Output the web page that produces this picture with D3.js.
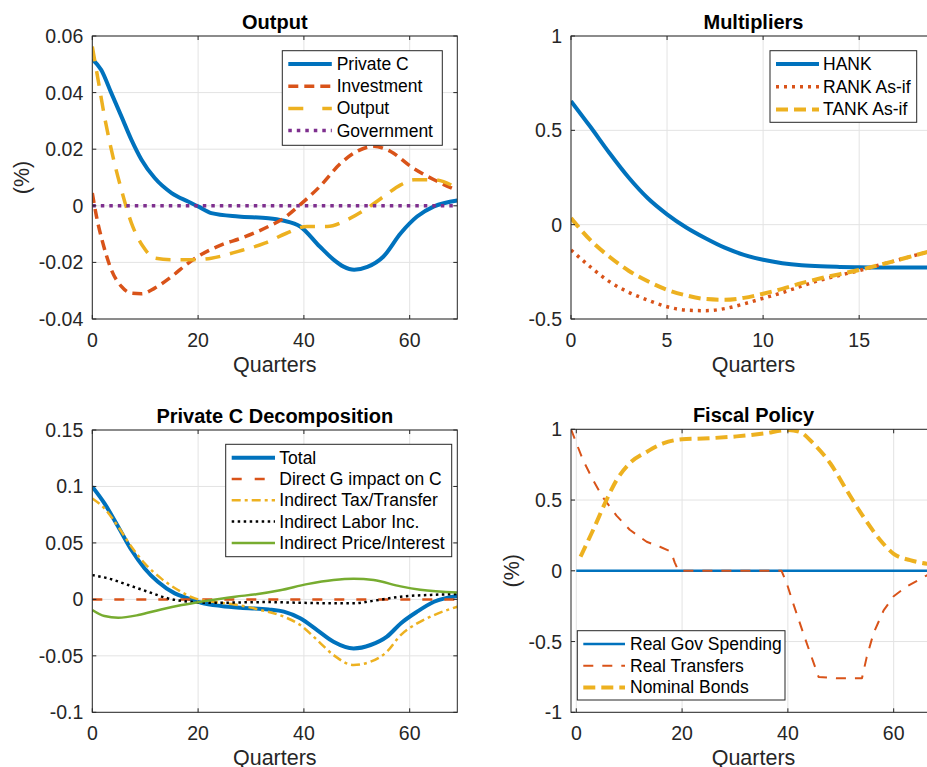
<!DOCTYPE html>
<html>
<head>
<meta charset="utf-8">
<script src="https://cdn.jsdelivr.net/npm/d3@7"></script>
<style>
  html, body { margin: 0; padding: 0; background: #fff; }
  svg { display: block; font-family: "Liberation Sans", Arial, Helvetica, sans-serif; }
</style>
</head>
<body>
<svg id="chart" width="927" height="767"></svg>
<script>
// ---- Output panel ----
const privCQ = [0, 1.7, 3.6, 5.5, 7.4, 9.3, 11.8, 15, 18.1, 20, 22.5, 27.6, 33.3, 36, 39.3, 43, 45.6, 47.5, 49.5, 52, 55, 58.3, 61.4, 64.6, 69];
const privCV = [0.0518, 0.048, 0.0398, 0.0316, 0.0233, 0.0163, 0.0098, 0.0045, 0.0015, -0.0002, -0.0026, -0.0038, -0.0044, -0.0052, -0.0073, -0.0144, -0.019, -0.0215, -0.0226, -0.0216, -0.018, -0.0097, -0.0038, -0.0002, 0.0019];
const investQ = [0, 0.8, 2, 3.6, 5.5, 7.4, 9.3, 11.8, 15, 18.1, 20, 24.4, 28.2, 33.3, 36.2, 39.3, 43, 47, 50, 53.2, 56.4, 60.2, 64.6, 69];
const investV = [0.0045, -0.0038, -0.0132, -0.0226, -0.0285, -0.0309, -0.0311, -0.0291, -0.025, -0.0203, -0.0179, -0.0138, -0.0114, -0.0073, -0.0044, 0.0004, 0.0068, 0.0151, 0.0192, 0.021, 0.0192, 0.0139, 0.0092, 0.0054];
const outputQ = [0, 1.1, 2.3, 3.9, 5.5, 7.4, 9.6, 11.8, 15, 18.1, 22.5, 27.6, 32.6, 36.7, 40.6, 44.4, 48.2, 52, 55.1, 58.3, 60.8, 64.6, 69];
const outputV = [0.0563, 0.0445, 0.0316, 0.0174, 0.0057, -0.0061, -0.0144, -0.0185, -0.0191, -0.0191, -0.0185, -0.0161, -0.0132, -0.0097, -0.0073, -0.0073, -0.0049, -0.0008, 0.0033, 0.0074, 0.0092, 0.0092, 0.0062];
const govQ = [0, 69];
const govV = [0, 0];

// ---- Multipliers panel ----
const multQ = [0, 1, 2, 3, 4, 5, 6, 7, 8, 9, 10, 11, 12, 13, 14, 15, 16, 17, 18, 19];
const hankV = [0.655, 0.52, 0.38, 0.25, 0.14, 0.055, -0.015, -0.072, -0.122, -0.16, -0.186, -0.204, -0.215, -0.221, -0.224, -0.226, -0.227, -0.227, -0.227, -0.227];
const rankV = [-0.134, -0.223, -0.302, -0.358, -0.4, -0.435, -0.453, -0.456, -0.445, -0.42, -0.39, -0.36, -0.326, -0.293, -0.268, -0.243, -0.215, -0.188, -0.16, -0.133];
const tankV = [0.035, -0.081, -0.17, -0.244, -0.3, -0.345, -0.375, -0.394, -0.398, -0.388, -0.366, -0.34, -0.31, -0.284, -0.262, -0.24, -0.215, -0.188, -0.16, -0.133];

// ---- Private C decomposition panel ----
const totalQ = [0, 2.3, 4.9, 7.4, 9.9, 12.4, 15.6, 18.1, 20.6, 24.4, 28, 33.3, 36.2, 39.3, 42.5, 45.6, 49.4, 52.6, 55.7, 58.3, 61.4, 64.6, 69];
const totalV = [0.0998, 0.085, 0.0643, 0.0437, 0.0274, 0.0156, 0.0053, 0.0009, -0.003, -0.0059, -0.0075, -0.0089, -0.0109, -0.0168, -0.0272, -0.0375, -0.0434, -0.0404, -0.033, -0.0213, -0.0109, -0.0021, 0.003];
const directQ = [0, 69];
const directV = [0, 0];
const taxQ = [0, 2.3, 4.9, 7.4, 9.9, 13, 16.2, 19.4, 22.5, 27.6, 31.8, 36.2, 39.3, 42.5, 45.6, 49.4, 52.6, 55.7, 58.3, 61.4, 64.6, 69];
const taxV = [0.0894, 0.0806, 0.0643, 0.0466, 0.0319, 0.0186, 0.0083, 0.0009, -0.002, -0.005, -0.0094, -0.0153, -0.0227, -0.036, -0.0493, -0.0581, -0.0552, -0.0463, -0.0316, -0.0213, -0.0139, -0.0065];
const laborQ = [0, 3, 6.8, 10.5, 14.3, 18.1, 22.9, 33, 39.3, 45.6, 49.4, 53.2, 58.3, 64.6, 69];
const laborV = [0.0215, 0.0186, 0.0127, 0.0068, 0.0009, -0.002, -0.003, -0.0024, -0.003, -0.0035, -0.0035, -0.0012, 0.0024, 0.0041, 0.0047];
const priceQ = [0, 2.3, 4.9, 8.7, 13, 16.9, 20.6, 27, 31, 35.5, 40.6, 45.6, 49.4, 53.2, 58.3, 62, 69];
const priceV = [-0.0094, -0.0148, -0.0162, -0.0139, -0.0089, -0.005, -0.002, 0.0024, 0.0045, 0.008, 0.0135, 0.0172, 0.0183, 0.0171, 0.0115, 0.0085, 0.006];

// ---- Fiscal policy panel ----
const spendQ = [0, 68];
const spendV = [0, 0];
const transQ = [-1, 1.3, 3.2, 5, 7.6, 10.1, 13.3, 15.8, 17.9, 18.6, 19.3, 38.8, 39.8, 41, 42.9, 44.2, 45.8, 49.2, 54, 54.9, 56.2, 58.1, 60, 62.5, 66.4, 68];
const transV = [1, 0.78, 0.64, 0.52, 0.39, 0.29, 0.205, 0.17, 0.135, 0.06, 0, 0, -0.09, -0.23, -0.44, -0.58, -0.75, -0.76, -0.76, -0.61, -0.44, -0.28, -0.18, -0.11, -0.03, -0.01];
const bondsQ = [0.8, 3.2, 5.7, 7.6, 10.1, 13.3, 16.4, 20, 24, 30.3, 35.4, 40.1, 42.3, 44.8, 48, 51.1, 54.3, 57.4, 60, 63.1, 66.4, 68];
const bondsV = [0.1, 0.29, 0.5, 0.64, 0.76, 0.84, 0.9, 0.93, 0.935, 0.95, 0.97, 0.995, 0.98, 0.9, 0.76, 0.57, 0.38, 0.22, 0.12, 0.075, 0.05, 0.045];

// ---- ticks ----
const ticksX70 = [0, 20, 40, 60];
const ticksXMult = [0, 5, 10, 15];
const ticksYOutput = [-0.04, -0.02, 0, 0.02, 0.04, 0.06];
const ticksYMult = [-0.5, 0, 0.5, 1];
const ticksYDecomp = [-0.1, -0.05, 0, 0.05, 0.1, 0.15];
const ticksYFiscal = [-1, -0.5, 0, 0.5, 1];

const C = {
  blue: "#0072BD",
  orange: "#D95319",
  yellow: "#EDB120",
  purple: "#7E2F8E",
  green: "#77AC30",
  black: "#000000"
};
const AX = "#262626";
const GRID = "#e3e3e3";

const svg = d3.select("#chart");
const zip = (qs, vs) => qs.map((q, i) => ({ q, v: vs[i] }));

function drawPanel(cfg) {
  const { left, top, width, height } = cfg;
  const g = svg.append("g").attr("transform", `translate(${left},${top})`);

  const x = d3.scaleLinear().domain(cfg.xDomain).range([0, width]);
  const y = d3.scaleLinear().domain(cfg.yDomain).range([height, 0]);

  // grid
  g.selectAll(".gx")
    .data(cfg.xTicks)
    .enter()
    .append("line")
    .attr("x1", (d) => x(d))
    .attr("x2", (d) => x(d))
    .attr("y1", 0)
    .attr("y2", height)
    .attr("stroke", GRID)
    .attr("stroke-width", 1);
  g.selectAll(".gy")
    .data(cfg.yTicks)
    .enter()
    .append("line")
    .attr("x1", 0)
    .attr("x2", width)
    .attr("y1", (d) => y(d))
    .attr("y2", (d) => y(d))
    .attr("stroke", GRID)
    .attr("stroke-width", 1);

  // clip for data lines
  const clipId = "clip-" + cfg.id;
  g.append("clipPath")
    .attr("id", clipId)
    .append("rect")
    .attr("width", width)
    .attr("height", height);

  const line = d3
    .line()
    .x((d) => x(d.q))
    .y((d) => y(d.v))
    .curve(d3.curveMonotoneX);

  const plot = g.append("g").attr("clip-path", `url(#${clipId})`);
  cfg.series.forEach((s) => {
    plot
      .append("path")
      .datum(zip(s.q, s.v))
      .attr("fill", "none")
      .attr("stroke", s.color)
      .attr("stroke-width", s.width)
      .attr("stroke-dasharray", s.dash || null)
      .attr("stroke-linejoin", "round")
      .attr("d", s.linear ? line.curve(d3.curveLinear)(zip(s.q, s.v)) : line.curve(d3.curveMonotoneX)(zip(s.q, s.v)));
  });

  // axes: box with inward ticks on all sides
  const tick = 4;
  const axes = g.append("g").attr("stroke", AX).attr("stroke-width", 1).attr("fill", "none");
  axes.append("rect").attr("x", 0).attr("y", 0).attr("width", width).attr("height", height);
  cfg.xTicks.forEach((t) => {
    axes.append("line").attr("x1", x(t)).attr("x2", x(t)).attr("y1", height).attr("y2", height - tick);
    axes.append("line").attr("x1", x(t)).attr("x2", x(t)).attr("y1", 0).attr("y2", tick);
  });
  cfg.yTicks.forEach((t) => {
    axes.append("line").attr("x1", 0).attr("x2", tick).attr("y1", y(t)).attr("y2", y(t));
    axes.append("line").attr("x1", width).attr("x2", width - tick).attr("y1", y(t)).attr("y2", y(t));
  });

  const fmt = (d) => String(Math.round(d * 100) / 100);

  g.selectAll(".xl")
    .data(cfg.xTicks)
    .enter()
    .append("text")
    .attr("x", (d) => x(d))
    .attr("y", height + 28)
    .attr("text-anchor", "middle")
    .attr("fill", AX)
    .style("font-size", "19.5px")
    .text(fmt);
  g.selectAll(".yl")
    .data(cfg.yTicks)
    .enter()
    .append("text")
    .attr("x", -9)
    .attr("y", (d) => y(d) + 7)
    .attr("text-anchor", "end")
    .attr("fill", AX)
    .style("font-size", "19.5px")
    .text(fmt);

  // x label
  g.append("text")
    .attr("x", width / 2)
    .attr("y", height + 53)
    .attr("text-anchor", "middle")
    .attr("fill", AX)
    .style("font-size", "21.5px")
    .text("Quarters");

  // y label
  if (cfg.yLabel) {
    g.append("text")
      .attr("transform", `translate(${cfg.yLabelX},${height / 2}) rotate(-90)`)
      .attr("text-anchor", "middle")
      .attr("fill", AX)
      .style("font-size", "21.5px")
      .text(cfg.yLabel);
  }

  // title
  g.append("text")
    .attr("x", width / 2)
    .attr("y", -7)
    .attr("text-anchor", "middle")
    .attr("fill", "#000")
    .style("font-size", "20px")
    .style("font-weight", "bold")
    .text(cfg.title);

  // legend
  const L = cfg.legend;
  const lg = svg.append("g").attr("transform", `translate(${L.x},${L.y})`);
  lg.append("rect")
    .attr("width", L.w)
    .attr("height", L.h)
    .attr("fill", "#fff")
    .attr("stroke", AX)
    .attr("stroke-width", 1);
  cfg.series.forEach((s, i) => {
    const ry = L.first + i * L.step;
    lg.append("line")
      .attr("x1", L.lx0)
      .attr("x2", L.lx1)
      .attr("y1", ry)
      .attr("y2", ry)
      .attr("stroke", s.color)
      .attr("stroke-width", s.width)
      .attr("stroke-dasharray", s.legendDash || s.dash || null);
    lg.append("text")
      .attr("x", L.tx)
      .attr("y", ry + 6)
      .attr("fill", "#000")
      .style("font-size", "17.5px")
      .text(s.name);
  });
}

drawPanel({
  id: "output",
  title: "Output",
  left: 92.3, top: 36, width: 365, height: 283,
  xDomain: [0, 69], yDomain: [-0.04, 0.06],
  xTicks: ticksX70, yTicks: ticksYOutput,
  yLabel: "(%)", yLabelX: -63,
  series: [
    { name: "Private C", q: privCQ, v: privCV, color: C.blue, width: 4 },
    { name: "Investment", q: investQ, v: investV, color: C.orange, width: 3.5, dash: "10,6" },
    { name: "Output", q: outputQ, v: outputV, color: C.yellow, width: 3.5, dash: "15,10", legendDash: "15,19" },
    { name: "Government", q: govQ, v: govV, color: C.purple, width: 3.5, dash: "3.5,5" }
  ],
  legend: { x: 282.3, y: 50.7, w: 160, h: 94.6, first: 13.3, step: 22.2, lx0: 6, lx1: 49.5, tx: 54.4 }
});

drawPanel({
  id: "mult",
  title: "Multipliers",
  left: 571, top: 36, width: 365, height: 283,
  xDomain: [0, 19], yDomain: [-0.5, 1],
  xTicks: ticksXMult, yTicks: ticksYMult,
  series: [
    { name: "HANK", q: multQ, v: hankV, color: C.blue, width: 4 },
    { name: "RANK As-if", q: multQ, v: rankV, color: C.orange, width: 3.5, dash: "3,5" },
    { name: "TANK As-if", q: multQ, v: tankV, color: C.yellow, width: 4, dash: "12,6" }
  ],
  legend: { x: 770, y: 50.7, w: 146.7, h: 71.6, first: 13.3, step: 22.7, lx0: 6, lx1: 49, tx: 53 }
});

drawPanel({
  id: "decomp",
  title: "Private C Decomposition",
  left: 92.3, top: 430, width: 365, height: 282.3,
  xDomain: [0, 69], yDomain: [-0.1, 0.15],
  xTicks: ticksX70, yTicks: ticksYDecomp,
  series: [
    { name: "Total", q: totalQ, v: totalV, color: C.blue, width: 4 },
    { name: "Direct G impact on C", q: directQ, v: directV, color: C.orange, width: 2.5, dash: "10,12", legendDash: "10,13" },
    { name: "Indirect Tax/Transfer", q: taxQ, v: taxV, color: C.yellow, width: 2.5, dash: "9,4,3,4" },
    { name: "Indirect Labor Inc.", q: laborQ, v: laborV, color: C.black, width: 2.5, dash: "2.5,3.5" },
    { name: "Indirect Price/Interest", q: priceQ, v: priceV, color: C.green, width: 2.5 }
  ],
  legend: { x: 225.7, y: 444.3, w: 226, h: 112.4, first: 13.4, step: 21.3, lx0: 6, lx1: 49.3, tx: 53.6 }
});

drawPanel({
  id: "fiscal",
  title: "Fiscal Policy",
  left: 571, top: 429.3, width: 365, height: 283,
  xDomain: [-1, 68], yDomain: [-1, 1],
  xTicks: ticksX70, yTicks: ticksYFiscal,
  yLabel: "(%)", yLabelX: -52,
  series: [
    { name: "Real Gov Spending", q: spendQ, v: spendV, color: C.blue, width: 2.5 },
    { name: "Real Transfers", q: transQ, v: transV, color: C.orange, width: 2, dash: "10,9", linear: true },
    { name: "Nominal Bonds", q: bondsQ, v: bondsV, color: C.yellow, width: 4, dash: "12,6" }
  ],
  legend: { x: 577.3, y: 630.7, w: 207.7, h: 69.3, first: 13.3, step: 21.7, lx0: 6, lx1: 47.7, tx: 52.7 }
});
</script>
</body>
</html>
